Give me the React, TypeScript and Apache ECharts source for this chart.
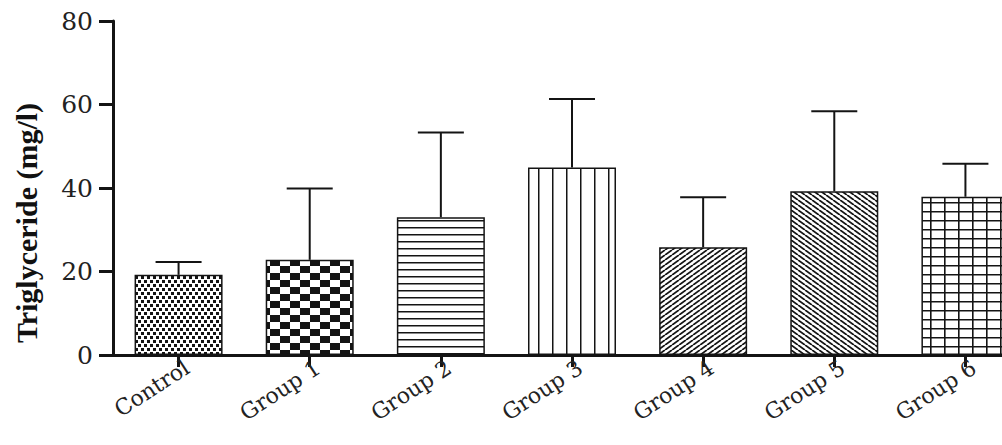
import React, { useEffect, useRef } from "react";
import * as echarts from "echarts";

const categories = ["Control", "Group 1", "Group 2", "Group 3", "Group 4", "Group 5", "Group 6"];
const means = [19.2, 22.8, 33.0, 44.9, 25.8, 39.2, 37.9];
const errors = [3.1, 17.1, 20.3, 16.4, 12.0, 19.2, 7.9];
const yMin = 0;
const yMax = 80;
const yStep = 20;
const yTitle = "Triglyceride (mg/l)";

const INK = "#141414";

function tile(w: number, h: number, draw: (ctx: CanvasRenderingContext2D) => void) {
  const c = document.createElement("canvas");
  c.width = w;
  c.height = h;
  const ctx = c.getContext("2d") as CanvasRenderingContext2D;
  ctx.fillStyle = "#ffffff";
  ctx.fillRect(0, 0, w, h);
  ctx.fillStyle = INK;
  ctx.strokeStyle = INK;
  draw(ctx);
  return { image: c, repeat: "repeat", imageWidth: w, imageHeight: h } as any;
}

function makePatterns() {
  const fineChecker = tile(6, 8, (ctx) => {
    ctx.fillRect(0, 0, 3, 3);
    ctx.fillRect(3, 4, 3, 3);
  });
  const bigChecker = tile(20, 14, (ctx) => {
    ctx.fillRect(0, 0, 10, 7);
    ctx.fillRect(10, 7, 10, 7);
  });
  const hLines = tile(4, 7, (ctx) => {
    ctx.fillRect(0, 3, 4, 1.5);
  });
  const vLines = tile(14, 4, (ctx) => {
    ctx.fillRect(6, 0, 1.5, 4);
  });
  const slashUp = tile(7, 5, (ctx) => {
    ctx.lineWidth = 1.8;
    ctx.beginPath();
    for (const dx of [-7, 0, 7]) {
      ctx.moveTo(dx, 5);
      ctx.lineTo(dx + 7, 0);
    }
    ctx.stroke();
  });
  const slashDown = tile(7, 5, (ctx) => {
    ctx.lineWidth = 1.8;
    ctx.beginPath();
    for (const dx of [-7, 0, 7]) {
      ctx.moveTo(dx, 0);
      ctx.lineTo(dx + 7, 5);
    }
    ctx.stroke();
  });
  const grid = tile(14, 9, (ctx) => {
    ctx.fillRect(6, 0, 1.6, 9);
    ctx.fillRect(0, 4, 14, 1.5);
  });
  return [fineChecker, bigChecker, hLines, vLines, slashUp, slashDown, grid];
}

export default function App() {
  const ref = useRef<HTMLDivElement>(null);

  useEffect(() => {
    if (!ref.current) return;
    const chart = echarts.init(ref.current, undefined, { renderer: "svg" });
    const patterns = makePatterns();

    const barData = means.map((v, i) => ({
      value: v,
      itemStyle: { color: patterns[i], borderColor: INK, borderWidth: 1.5 },
    }));
    const errData = means.map((v, i) => [i, v, errors[i]]);

    chart.setOption({
      animation: false,
      backgroundColor: "#ffffff",
      grid: {
        left: 113,
        width: 918,
        top: 21,
        bottom: 90,
        containLabel: false,
        outerBoundsMode: "none",
      },
      xAxis: {
        type: "category",
        data: categories,
        axisLine: { show: true, lineStyle: { color: INK, width: 3 } },
        axisTick: { show: true, alignWithLabel: true, length: 12, lineStyle: { color: INK, width: 3 } },
        axisLabel: {
          rotate: 33,
          margin: 16,
          fontFamily: "DejaVu Serif",
          fontSize: 22,
          color: "#222",
          padding: [0, -10, 0, 0],
        },
        splitLine: { show: false },
      },
      yAxis: {
        type: "value",
        min: yMin,
        max: yMax,
        interval: yStep,
        name: yTitle,
        nameLocation: "middle",
        nameRotate: 90,
        nameGap: 72,
        nameTextStyle: {
          fontFamily: "Liberation Serif",
          fontWeight: "bold",
          fontSize: 30,
          color: "#111",
          padding: [0, 70, 0, 0],
        },
        axisLine: { show: true, lineStyle: { color: INK, width: 3 } },
        axisTick: { show: true, length: 14, lineStyle: { color: INK, width: 3 } },
        axisLabel: {
          margin: 20,
          fontFamily: "DejaVu Serif",
          fontSize: 25,
          color: "#222",
        },
        splitLine: { show: false },
      },
      series: [
        {
          type: "bar",
          data: barData,
          barWidth: 88,
          z: 2,
        },
        {
          type: "custom",
          data: errData,
          encode: { x: 0, y: 1 },
          z: 3,
          renderItem: (params: any, api: any) => {
            const i = api.value(0);
            const v = api.value(1);
            const e = api.value(2);
            const base = api.coord([i, v]);
            const top = api.coord([i, v + e]);
            const style = { stroke: INK, lineWidth: 2 };
            return {
              type: "group",
              children: [
                { type: "line", shape: { x1: base[0], y1: base[1], x2: top[0], y2: top[1] }, style },
                { type: "line", shape: { x1: top[0] - 23, y1: top[1], x2: top[0] + 23, y2: top[1] }, style },
              ],
            };
          },
        },
      ],
    });

    return () => chart.dispose();
  }, []);

  return (
    <div
      ref={ref}
      style={{ position: "absolute", left: 0, top: 0, width: 1002, height: 445, background: "#fff" }}
    />
  );
}
